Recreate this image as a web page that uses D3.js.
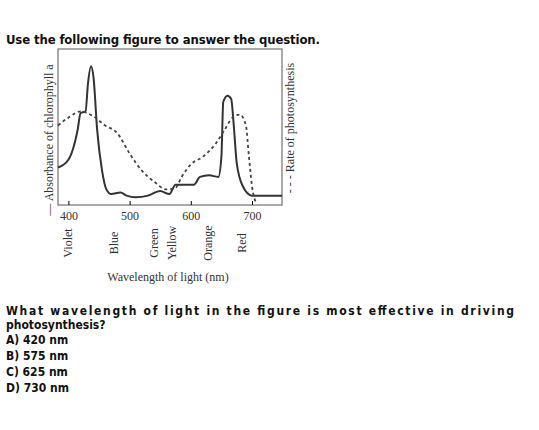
<!DOCTYPE html>
<html><head><meta charset="utf-8">
<script src="https://cdn.jsdelivr.net/npm/d3@7"></script>
<style>
body{margin:0;background:#fff}
.q{font-family:"DejaVu Sans Condensed","DejaVu Sans",sans-serif;font-stretch:condensed;font-weight:bold;font-size:12px;fill:#111}
.s{font-family:"Liberation Serif",serif;fill:#333}
</style></head><body>
<svg id="c" width="539" height="430"></svg>
<script>
// absorbance of chlorophyll a (solid), nm vs relative value
var absorbNm = [383,400,415,420,428,432,437,441,447,455,462,470,485,495,510,530,550,565,575,590,605,615,630,645,650,653,660,666,670,675,685,700,749]
var absorbVal = [0.24,0.29,0.48,0.59,0.60,0.78,0.89,0.82,0.48,0.22,0.10,0.07,0.08,0.06,0.05,0.06,0.09,0.07,0.13,0.13,0.13,0.18,0.19,0.18,0.31,0.66,0.70,0.68,0.52,0.27,0.12,0.06,0.06]
// rate of photosynthesis (dashed)
var rateNm = [383,400,420,440,460,480,500,520,540,560,575,585,600,620,640,655,668,680,690,695,700,707]
var rateVal = [0.51,0.56,0.60,0.57,0.51,0.46,0.33,0.22,0.15,0.10,0.11,0.18,0.26,0.31,0.39,0.48,0.56,0.58,0.51,0.31,0.12,0.01]
var tickVals = [400,500,600,700]
var colourNames = [["Violet",400],["Blue",475],["Green",540],["Yellow",570],["Orange",628],["Red",683]]
var answers = ["A) 420 nm","B) 575 nm","C) 625 nm","D) 730 nm"]

var svg = d3.select("#c")
var x = d3.scaleLinear().domain([383,749]).range([58,282])
var y = d3.scaleLinear().domain([0,1]).range([205,49])

svg.append("text").attr("class","q").attr("x",6).attr("y",44).style("font-size","13px")
    .attr("textLength",314).text("Use the following figure to answer the question.")

svg.append("rect").attr("x",58).attr("y",49).attr("width",224).attr("height",156)
    .attr("fill","none").attr("stroke","#555").attr("stroke-width",1)

var ax = svg.append("g").attr("transform","translate(0,205)")
    .call(d3.axisBottom(x).tickValues(tickVals).tickSize(-4).tickPadding(6))
ax.select(".domain").remove()
ax.selectAll("text").attr("class","s").style("font-size","12px").attr("font-family","Liberation Serif")

var line = d3.line().curve(d3.curveMonotoneX)
svg.append("path").datum(absorbNm.map((d,i)=>[x(d),y(absorbVal[i])]))
    .attr("d",line).attr("fill","none").attr("stroke","#333").attr("stroke-width",2)
svg.append("path").datum(rateNm.map((d,i)=>[x(d),y(rateVal[i])]))
    .attr("d",line).attr("fill","none").attr("stroke","#444").attr("stroke-width",1.8).attr("stroke-dasharray","3,3")

colourNames.forEach(function(c){
    svg.append("text").attr("class","s").style("font-size","12px")
        .attr("transform","translate("+(x(c[1])+4)+",243) rotate(-90)")
        .attr("text-anchor","middle").text(c[0])
})
svg.append("text").attr("class","s").style("font-size","12px").attr("x",168).attr("y",281)
    .attr("text-anchor","middle").text("Wavelength of light (nm)")
svg.append("text").attr("class","s").style("font-size","12px")
    .attr("transform","translate(53,140) rotate(-90)").attr("text-anchor","middle")
    .text("— Absorbance of chlorophyll a")
svg.append("text").attr("class","s").style("font-size","12px")
    .attr("transform","translate(294,128) rotate(-90)").attr("text-anchor","middle")
    .text("- - - Rate of photosynthesis")

svg.append("text").attr("class","q").attr("x",6).attr("y",315)
    .attr("textLength",508).text("What wavelength of light in the figure is most effective in driving")
svg.append("text").attr("class","q").attr("x",6).attr("y",329).text("photosynthesis?")
answers.forEach(function(a,i){
    svg.append("text").attr("class","q").attr("x",6).attr("y",344+i*16).text(a)
})
</script></body></html>
